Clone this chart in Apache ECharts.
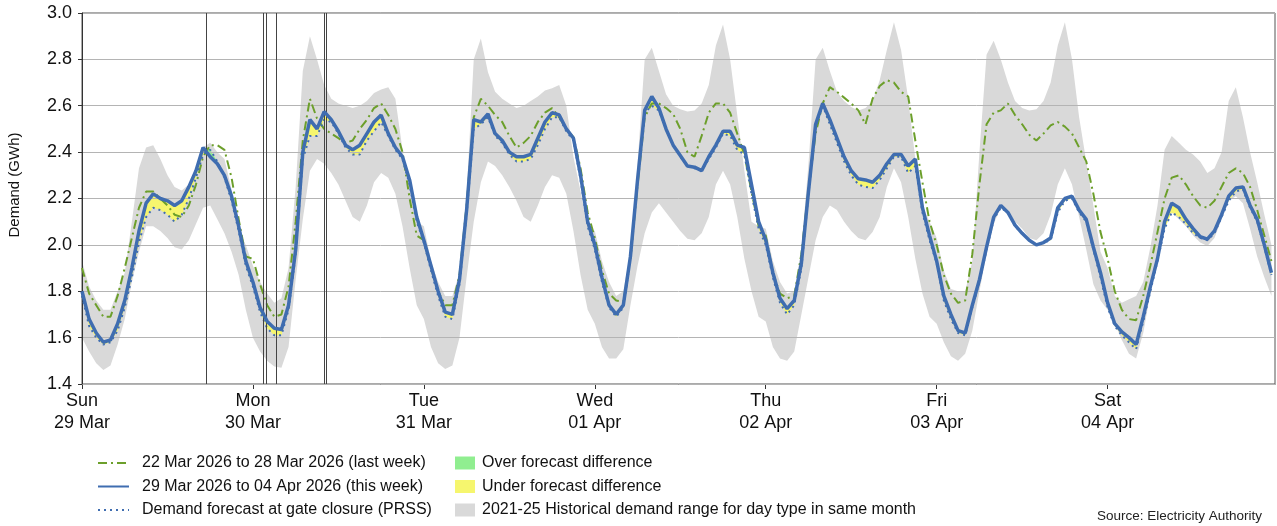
<!DOCTYPE html>
<html>
<head>
<meta charset="utf-8">
<script src="https://cdn.jsdelivr.net/npm/echarts@6/dist/echarts.min.js"></script>
<style>
html,body{margin:0;padding:0;background:#fff;}
#chart{width:1277px;height:526px;}
</style>
</head>
<body>
<div id="chart"></div>
<script>
// Hourly values, one row per day (Sun 29 Mar .. Sat 04 Apr), hour 0..23
const dayLabels = ['Sun\n29 Mar','Mon\n30 Mar','Tue\n31 Mar','Wed\n01 Apr','Thu\n02 Apr','Fri\n03 Apr','Sat\n04 Apr'];
const yTicks = [1.4,1.6,1.8,2.0,2.2,2.4,2.6,2.8,3.0];

const thisWeek = [
 1.80,1.68,1.62,1.58,1.59,1.66,1.76,1.90,2.06,2.18,2.22,2.20,2.19,2.17,2.19,2.25,2.32,2.42,2.38,2.35,2.30,2.21,2.08,1.93,
 1.84,1.73,1.67,1.64,1.635,1.74,1.98,2.40,2.54,2.50,2.575,2.54,2.49,2.43,2.41,2.43,2.48,2.53,2.56,2.48,2.42,2.38,2.28,2.12,
 2.02,1.91,1.80,1.71,1.70,1.85,2.15,2.54,2.53,2.565,2.48,2.45,2.40,2.38,2.38,2.39,2.46,2.53,2.57,2.56,2.50,2.46,2.30,2.10,
 2.00,1.86,1.74,1.70,1.74,1.95,2.28,2.58,2.64,2.59,2.50,2.43,2.385,2.34,2.335,2.32,2.38,2.43,2.49,2.49,2.43,2.42,2.26,2.10,
 2.02,1.88,1.77,1.725,1.76,1.92,2.23,2.52,2.61,2.54,2.46,2.38,2.32,2.285,2.28,2.27,2.30,2.35,2.39,2.39,2.34,2.37,2.16,2.04,
 1.93,1.78,1.70,1.63,1.62,1.74,1.85,1.99,2.12,2.17,2.14,2.085,2.05,2.02,2.00,2.01,2.03,2.16,2.20,2.21,2.15,2.11,1.99,1.88,
 1.75,1.66,1.625,1.60,1.57,1.69,1.82,1.94,2.10,2.18,2.16,2.11,2.07,2.035,2.025,2.06,2.13,2.21,2.245,2.25,2.17,2.11,2.00,1.88
];

const lastWeek = [
 1.90,1.79,1.74,1.69,1.69,1.78,1.90,2.03,2.16,2.23,2.23,2.20,2.17,2.13,2.12,2.17,2.26,2.38,2.43,2.43,2.41,2.29,2.11,1.95,
 1.94,1.83,1.74,1.69,1.70,1.82,2.10,2.45,2.63,2.545,2.50,2.48,2.46,2.44,2.45,2.50,2.54,2.59,2.61,2.56,2.50,2.40,2.20,2.04,
 2.02,1.90,1.80,1.74,1.74,1.87,2.17,2.55,2.63,2.60,2.56,2.53,2.47,2.42,2.44,2.47,2.53,2.57,2.59,2.55,2.50,2.465,2.33,2.14,
 2.03,1.89,1.79,1.76,1.755,1.94,2.256,2.55,2.61,2.61,2.59,2.565,2.50,2.40,2.38,2.47,2.57,2.61,2.61,2.57,2.48,2.39,2.23,2.08,
 2.04,1.88,1.79,1.77,1.78,1.96,2.24,2.48,2.61,2.68,2.66,2.635,2.61,2.58,2.52,2.63,2.685,2.71,2.70,2.66,2.64,2.45,2.27,2.10,
 2.00,1.87,1.79,1.75,1.76,1.96,2.26,2.52,2.57,2.58,2.61,2.56,2.52,2.475,2.45,2.48,2.515,2.53,2.51,2.48,2.42,2.36,2.22,2.055,
 1.94,1.80,1.72,1.68,1.675,1.78,1.91,2.055,2.20,2.29,2.30,2.26,2.21,2.17,2.16,2.19,2.25,2.31,2.33,2.31,2.25,2.15,2.04,1.93
];

const forecast = [
 1.78,1.65,1.60,1.57,1.58,1.63,1.73,1.86,2.01,2.12,2.16,2.15,2.13,2.10,2.13,2.20,2.29,2.39,2.41,2.36,2.29,2.19,2.06,1.91,
 1.82,1.71,1.64,1.61,1.61,1.72,1.96,2.37,2.47,2.47,2.54,2.53,2.48,2.42,2.39,2.39,2.45,2.49,2.53,2.47,2.41,2.37,2.26,2.10,
 2.01,1.89,1.78,1.69,1.68,1.83,2.13,2.50,2.52,2.55,2.47,2.44,2.39,2.36,2.36,2.37,2.43,2.50,2.55,2.55,2.49,2.45,2.28,2.08,
 1.98,1.84,1.73,1.69,1.73,1.94,2.27,2.57,2.60,2.58,2.50,2.43,2.38,2.34,2.33,2.32,2.37,2.42,2.48,2.47,2.41,2.39,2.22,2.07,
 2.00,1.86,1.75,1.70,1.74,1.90,2.22,2.51,2.60,2.52,2.44,2.36,2.30,2.26,2.25,2.245,2.28,2.33,2.38,2.38,2.31,2.34,2.14,2.02,
 1.92,1.76,1.68,1.62,1.61,1.73,1.84,1.98,2.11,2.16,2.14,2.08,2.05,2.02,2.00,2.01,2.02,2.14,2.19,2.20,2.14,2.10,1.98,1.86,
 1.73,1.65,1.61,1.58,1.55,1.67,1.80,1.93,2.07,2.14,2.12,2.09,2.05,2.03,2.02,2.05,2.12,2.19,2.23,2.24,2.16,2.10,1.99,1.87
];

const histMax = [
 1.93,1.82,1.76,1.72,1.72,1.80,1.88,2.10,2.33,2.42,2.43,2.37,2.30,2.25,2.235,2.26,2.32,2.42,2.44,2.40,2.37,2.24,2.06,2.00,
 1.91,1.84,1.79,1.75,1.77,1.90,2.25,2.75,2.90,2.80,2.69,2.63,2.61,2.60,2.59,2.60,2.62,2.655,2.67,2.68,2.63,2.41,2.25,2.10,
 2.08,1.93,1.84,1.78,1.78,1.88,2.22,2.80,2.89,2.745,2.66,2.63,2.61,2.59,2.60,2.62,2.64,2.666,2.675,2.69,2.60,2.38,2.23,2.08,
 2.06,1.93,1.84,1.78,1.80,1.97,2.35,2.80,2.85,2.75,2.65,2.60,2.585,2.575,2.58,2.61,2.69,2.86,2.95,2.80,2.56,2.32,2.10,2.08,
 2.07,1.93,1.84,1.79,1.80,1.98,2.35,2.80,2.85,2.75,2.66,2.62,2.595,2.58,2.59,2.62,2.71,2.84,2.96,2.84,2.63,2.37,2.17,2.10,
 2.03,1.89,1.81,1.80,1.80,1.93,2.40,2.82,2.88,2.80,2.70,2.62,2.59,2.58,2.585,2.62,2.70,2.86,2.96,2.80,2.55,2.36,2.17,1.97,
 1.90,1.78,1.75,1.765,1.78,1.84,1.99,2.17,2.41,2.47,2.44,2.41,2.39,2.36,2.31,2.33,2.40,2.62,2.68,2.55,2.40,2.27,2.13,2.00
];

const histMin = [
 1.60,1.54,1.49,1.46,1.48,1.57,1.68,1.84,1.97,2.08,2.08,2.06,2.03,1.99,1.98,2.02,2.09,2.16,2.17,2.11,2.05,1.97,1.87,1.72,
 1.60,1.54,1.50,1.475,1.47,1.56,1.85,2.11,2.32,2.37,2.35,2.31,2.26,2.19,2.12,2.10,2.17,2.27,2.31,2.29,2.22,2.08,1.90,1.74,
 1.68,1.56,1.49,1.465,1.48,1.60,1.86,2.10,2.27,2.36,2.34,2.30,2.25,2.19,2.12,2.10,2.17,2.25,2.30,2.29,2.22,2.06,1.87,1.72,
 1.66,1.56,1.51,1.51,1.55,1.74,1.91,2.05,2.14,2.18,2.14,2.10,2.06,2.026,2.02,2.05,2.12,2.26,2.32,2.26,2.12,1.94,1.80,1.69,
 1.67,1.56,1.51,1.50,1.54,1.70,1.86,2.02,2.12,2.17,2.15,2.10,2.06,2.03,2.02,2.055,2.12,2.25,2.33,2.27,2.12,1.94,1.79,1.69,
 1.66,1.58,1.52,1.50,1.53,1.63,1.80,1.96,2.09,2.16,2.15,2.10,2.07,2.03,2.02,2.05,2.13,2.26,2.33,2.26,2.12,1.98,1.83,1.76,
 1.72,1.66,1.59,1.53,1.51,1.62,1.79,1.96,2.09,2.14,2.11,2.08,2.04,2.01,1.995,2.03,2.11,2.19,2.21,2.18,2.07,1.95,1.86,1.78
];

// event marker times (hours from Sun 00:00)
const eventHours = [17.5, 25.5, 25.83, 27.33, 33.95, 34.35];

const names = {
  last: '22 Mar 2026 to 28 Mar 2026 (last week)',
  cur: '29 Mar 2026 to 04 Apr 2026 (this week)',
  fc: 'Demand forecast at gate closure (PRSS)',
  over: 'Over forecast difference',
  under: 'Under forecast difference',
  hist: '2021-25 Historical demand range for day type in same month'
};
const C = {
  green: '#6c9f2b', blue: '#3f6db0', grey: '#d9d9d9', over: '#90ee90', under: '#f6f66e'
};

const pts = arr => arr.map((v, i) => [i, v]);
const upperFc = thisWeek.map((v, i) => Math.max(v, forecast[i]));
const lowerFc = thisWeek.map((v, i) => Math.min(v, forecast[i]));

// filled band between two series, drawn through the axis scales (api.coord)
function bandRenderer(top, bottom, color) {
  return function (params, api) {
    if (params.dataIndex !== 0) return null;
    const points = [];
    for (let i = 0; i < top.length; i++) points.push(api.coord([i, top[i]]));
    for (let i = bottom.length - 1; i >= 0; i--) points.push(api.coord([i, bottom[i]]));
    return { type: 'polygon', shape: { points: points }, style: { fill: color, stroke: null } };
  };
}

const FONT = '"Liberation Sans", Arial, Helvetica, sans-serif';

const chart = echarts.init(document.getElementById('chart'), null, { renderer: 'canvas' });
chart.setOption({
  animation: false,
  backgroundColor: '#fff',
  textStyle: { fontFamily: FONT },
  grid: { left: 82, right: 2, top: 13, bottom: 142, show: true, borderColor: '#555', borderWidth: 1 },
  xAxis: {
    type: 'value', min: 0, max: 167.5, interval: 24,
    axisLine: { show: true, onZero: false, lineStyle: { color: '#333', width: 1 } },
    axisTick: { show: true, length: 5, lineStyle: { color: '#333' } },
    axisLabel: {
      showMaxLabel: false, color: '#111', fontSize: 18, lineHeight: 22, margin: 6, fontFamily: FONT,
      formatter: v => dayLabels[Math.round(v / 24)] || ''
    },
    splitLine: { show: false }
  },
  yAxis: {
    type: 'value', min: yTicks[0], max: yTicks[yTicks.length - 1], interval: 0.2, z: 2,
    axisLine: { show: true, lineStyle: { color: '#333', width: 1 } },
    axisTick: { show: true, length: 4, lineStyle: { color: '#333' } },
    axisLabel: { color: '#111', fontSize: 18, margin: 10, fontFamily: FONT, formatter: v => v.toFixed(1) },
    splitLine: { show: true, lineStyle: { color: '#b4b4b4', width: 1 } }
  },
  legend: [
    {
      orient: 'vertical', left: 97, top: 455, height: 72, padding: 0,
      itemWidth: 31, itemHeight: 14, itemGap: 7.5,
      itemStyle: { opacity: 0 },
      textStyle: { fontSize: 16, color: '#111', padding: [0, 0, 0, 8], fontFamily: FONT },
      data: [names.last, names.cur, names.fc], selectedMode: false
    },
    {
      orient: 'vertical', left: 455, top: 455, height: 72, padding: 0,
      itemWidth: 20, itemHeight: 13, itemGap: 7.5,
      textStyle: { fontSize: 16, color: '#111', padding: [0, 0, 0, 2], fontFamily: FONT },
      data: [
        { name: names.over, icon: 'rect', itemStyle: { color: C.over, borderWidth: 0 } },
        { name: names.under, icon: 'rect', itemStyle: { color: C.under, borderWidth: 0 } },
        { name: names.hist, icon: 'rect', itemStyle: { color: C.grey, borderWidth: 0 } }
      ],
      selectedMode: false
    }
  ],
  graphic: [
    { type: 'text', x: 15, y: 185, rotation: Math.PI / 2,
      style: { text: 'Demand (GWh)', fontSize: 15, fill: '#111', align: 'center', verticalAlign: 'middle', fontFamily: FONT } },
    { type: 'text', x: 1262, y: 516,
      style: { text: 'Source: Electricity Authority', fontSize: 13.5, fill: '#222', align: 'right', verticalAlign: 'middle', fontFamily: FONT } }
  ],
  series: [
    {
      type: 'custom', name: names.hist, data: pts(histMax), encode: { x: 0, y: 1 }, z: 1, clip: true, silent: true,
      itemStyle: { color: C.grey },
      renderItem: bandRenderer(histMax, histMin, C.grey)
    },
    {
      type: 'custom', name: names.over, data: pts(upperFc), encode: { x: 0, y: 1 }, z: 1, clip: true, silent: true,
      itemStyle: { color: C.over },
      renderItem: bandRenderer(upperFc, thisWeek, C.over)
    },
    {
      type: 'custom', name: names.under, data: pts(thisWeek), encode: { x: 0, y: 1 }, z: 1, clip: true, silent: true,
      itemStyle: { color: C.under },
      renderItem: bandRenderer(thisWeek, lowerFc, C.under)
    },
    {
      type: 'line', name: names.last, data: pts(lastWeek), symbol: 'none', z: 3,
      itemStyle: { color: C.green },
      lineStyle: { color: C.green, width: 2, type: [9, 4, 2, 4] },
      markLine: {
        silent: true, symbol: 'none', label: { show: false },
        lineStyle: { color: '#444', width: 1, type: 'solid' },
        data: eventHours.map(h => ({ xAxis: h }))
      }
    },
    {
      type: 'line', name: names.fc, data: pts(forecast), symbol: 'none', z: 4,
      itemStyle: { color: C.blue },
      lineStyle: { color: C.blue, width: 2, type: [2, 4] }
    },
    {
      type: 'line', name: names.cur, data: pts(thisWeek), symbol: 'none', z: 5,
      itemStyle: { color: C.blue },
      lineStyle: { color: C.blue, width: 3.5 }
    }
  ]
});
</script>
</body>
</html>
